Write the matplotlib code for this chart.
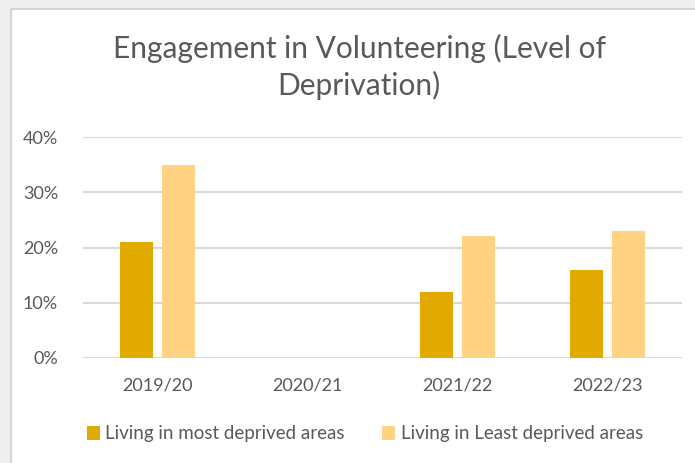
import numpy as np
import matplotlib.pyplot as plt
from matplotlib.patches import Rectangle
from matplotlib.ticker import PercentFormatter

# datos de voluntariado por nivel de privacion (2020/21 sin dato)
anios = ["2019/20", "2020/21", "2021/22", "2022/23"]
mas_privadas = [21, np.nan, 12, 16]
menos_privadas = [35, np.nan, 22, 23]
etiquetas = ["Living in most deprived areas", "Living in Least deprived areas"]

color_oscuro = "#E2A900"
color_claro = "#FFD284"
gris_texto = "#595959"

plt.rcParams['font.family'] = ['Lato', 'DejaVu Sans']

fig = plt.figure(figsize=(6.95, 4.63), dpi=100, facecolor="#EFEFEF")
# recuadro blanco del grafico con borde gris claro
fig.patches.append(Rectangle((10.5 / 695, -0.01), 1.0, 1.01 - 8.5 / 463, transform=fig.transFigure,
                             facecolor="white", edgecolor="#D4D4D4", linewidth=1.5, zorder=-5))

ax = fig.add_axes([83 / 695, 1 - 358 / 463, (682 - 83) / 695, (358 - 137) / 463])
ax.set_facecolor("none")

x = np.arange(len(anios))
ancho = 0.22
ax.bar(x - 0.14, mas_privadas, ancho, color=color_oscuro, label=etiquetas[0], zorder=3)
ax.bar(x + 0.14, menos_privadas, ancho, color=color_claro, label=etiquetas[1], zorder=3)

ax.set_xlim(-0.5, 3.5)
ax.set_ylim(0, 40)
ax.set_yticks([0, 10, 20, 30, 40])
ax.yaxis.set_major_formatter(PercentFormatter(decimals=0))
ax.set_xticks(x)
ax.set_xticklabels(anios)
ax.grid(axis='y', color="#D9D9D9", linewidth=1.5, zorder=0)
ax.tick_params(length=0, labelsize=13, labelcolor=gris_texto)
ax.tick_params(axis='y', pad=18)
ax.tick_params(axis='x', pad=14)
for s in ax.spines.values():
    s.set_visible(False)

fig.text(0.517, 1 - 67 / 463, "Engagement in Volunteering (Level of\nDeprivation)", ha='center', va='center',
         fontsize=21.5, color=gris_texto, linespacing=1.3)

fig.legend(loc='center', bbox_to_anchor=(0.525, 1 - 434 / 463), ncol=2, frameon=False,
           fontsize=13.5, labelcolor=gris_texto, handlelength=0.7, handleheight=0.7,
           handletextpad=0.3, columnspacing=2.0)

fig.savefig("out.png", dpi=100, facecolor=fig.get_facecolor())
